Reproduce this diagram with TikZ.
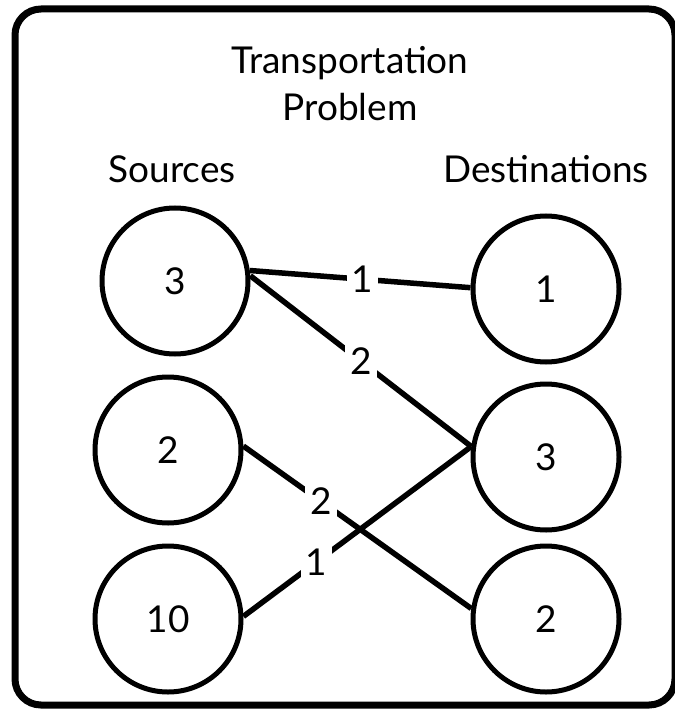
\documentclass[tikz,border=0pt]{standalone}
\usepackage{fontspec}
\setmainfont{Lato}
\usetikzlibrary{positioning}

\begin{document}
\begin{tikzpicture}[x=1pt,y=-1pt,on grid,
  every node/.style={font=\fontsize{37}{44}\selectfont},
  place/.style={circle,draw,line width=5pt,minimum size=146pt,inner sep=0pt},
  cost/.style={fill=white,inner sep=5pt},
  every edge/.style={draw,line width=5.5pt}]
\useasboundingbox (0,0) rectangle (674,711);
\draw[line width=7pt,rounded corners=26pt] (15,9) rectangle (675,705);
\node[anchor=base] (title) at (350,74) {Transportation};
\node[anchor=base] (subtitle) at (350,121) {Problem};
\node[anchor=base] (src) at (172,183) {Sources};
\node[anchor=base] (dst) at (546,183) {Destinations};
\node[place] (S3) at (175,281) {3};
\node[place] (S2) [below left=169pt and 7pt of S3] {2};
\node[place] (S10) [below=169pt of S2] {10};
\node[place] (D1) [below right=8pt and 371pt of S3] {1};
\node[place] (D3) [below=168pt of D1] {3};
\node[place] (D2) [below=162pt of D3] {2};
\path
(S3.8) edge node[cost,pos=0.51] {1} (D1.179)
(S3.4) edge node[cost] {2} (D3.172)
(S2.3) edge node[cost,pos=0.34] {2} (D2.172)
(S10.2) edge node[cost,pos=0.32] {1} (D3.172);
\end{tikzpicture}
\end{document}
